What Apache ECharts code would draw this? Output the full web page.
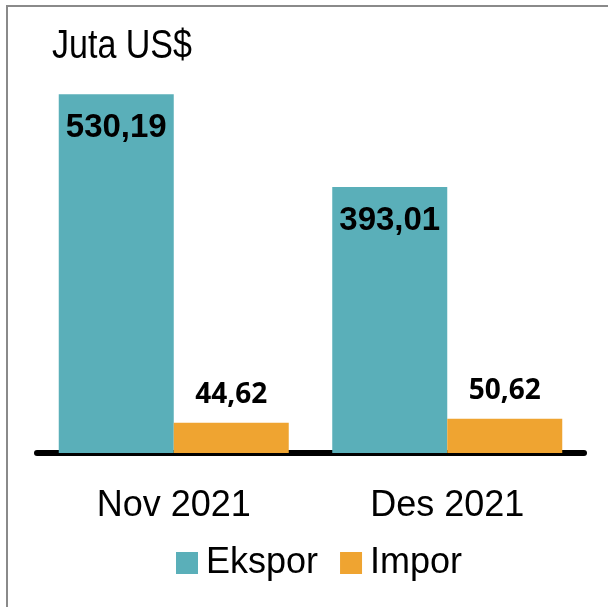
<!DOCTYPE html>
<html>
<head>
<meta charset="utf-8">
<script src="https://cdn.jsdelivr.net/npm/echarts@6/dist/echarts.min.js"></script>
<style>html,body{margin:0;padding:0;background:#fff;}#c{width:608px;height:607px;}</style>
</head>
<body>
<div id="c"></div>
<script>
var categories = ['Nov 2021', 'Des 2021'];
var ekspor = [530.19, 393.01];
var impor = [44.62, 50.62];
var unitLabel = 'Juta US$';

function fmt(v) { return v.toFixed(2).replace('.', ','); }
var narrow = '"Liberation Sans Narrow", "Arial Narrow", "Liberation Sans", Arial, sans-serif';

var chart = echarts.init(document.getElementById('c'), null, {renderer: 'canvas'});
chart.setOption({
  animation: false,
  backgroundColor: '#fff',
  graphic: [
    {type: 'rect', shape: {x: 7, y: 6, width: 700, height: 700}, style: {fill: 'none', stroke: '#8a8a8a', lineWidth: 2}, silent: true},
    {type: 'text', x: 52, y: 26, scaleX: 0.83, style: {text: unitLabel, font: '41px ' + narrow, fill: '#000'}}
  ],
  grid: {left: 37, right: 24, top: 47, bottom: 154},
  legend: {
    data: ['Ekspor', 'Impor'],
    top: 540, left: 171,
    icon: 'rect', itemWidth: 22, itemHeight: 22, itemGap: 22,
    textStyle: {fontFamily: narrow, fontSize: 36, color: '#000', padding: [0, 0, 0, 3]}
  },
  xAxis: {
    type: 'category', data: categories,
    axisLine: {show: true, lineStyle: {color: '#000', width: 6}},
    axisTick: {show: false},
    axisLabel: {fontFamily: narrow, fontSize: 36, color: '#000', margin: 35}
  },
  yAxis: {
    type: 'value', min: 0, max: 600, show: false,
    splitLine: {show: false}
  },
  series: [
    {
      name: 'Ekspor', type: 'bar', data: ekspor, barWidth: 115, barGap: '0%',
      itemStyle: {color: '#5AAFB9'},
      label: {show: true, position: 'insideTop', distance: 17, formatter: function (p) { return fmt(p.value); },
        fontFamily: narrow, fontWeight: 'bold', fontSize: 33, color: '#000'}
    },
    {
      name: 'Impor', type: 'bar', data: impor, barWidth: 115,
      itemStyle: {color: '#EFA431'},
      label: {show: true, position: 'top', distance: 14, formatter: function (p) { return fmt(p.value); },
        fontFamily: '"Open Sans", "Noto Sans", sans-serif', fontWeight: 'bold', fontSize: 28, color: '#000'}
    }
  ]
});
</script>
</body>
</html>
